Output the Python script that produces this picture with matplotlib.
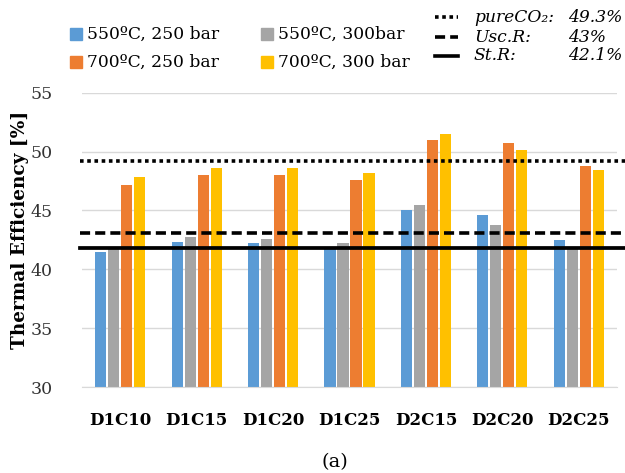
import matplotlib
matplotlib.use("Agg")
import matplotlib.pyplot as plt
import numpy as np
from matplotlib.patches import Rectangle
from matplotlib.lines import Line2D

categories = ["D1C10", "D1C15", "D1C20", "D1C25", "D2C15", "D2C20", "D2C25"]
series_names = ["550ºC, 250 bar", "550ºC, 300bar", "700ºC, 250 bar", "700ºC, 300 bar"]
s550_250 = [41.5, 42.3, 42.2, 41.8, 45.0, 44.6, 42.5]
s550_300 = [41.9, 42.7, 42.6, 42.2, 45.5, 43.8, 41.7]
s700_250 = [47.2, 48.0, 48.0, 47.6, 51.0, 50.7, 48.8]
s700_300 = [47.8, 48.6, 48.6, 48.2, 51.5, 50.1, 48.4]
series = [s550_250, s550_300, s700_250, s700_300]
colors = ["#5B9BD5", "#A5A5A5", "#ED7D31", "#FFC000"]

ref_names = ["pureCO\u2082:", "Usc.R:", "St.R:"]
ref_labels = ["49.3%", "43%", "42.1%"]
ref_values = [49.2, 43.05, 41.85]
ref_styles = [(0, (1, 1)), (0, (2.8, 1.4)), "-"]

yticks = [30, 35, 40, 45, 50, 55]

W, H = 625, 473
fig = plt.figure(figsize=(W / 100, H / 100), dpi=100)
ax = fig.add_axes([82 / W, 1 - 387 / H, (617 - 82) / W, (387 - 92.7) / H])

x = np.arange(len(categories))
slot = 0.17
bw = 0.145
for i, (vals, c) in enumerate(zip(series, colors)):
    ax.bar(x + (i - 1.5) * slot, np.array(vals) - 30, bottom=30, width=bw,
           color=c, zorder=2)

for v, ls in zip(ref_values, ref_styles):
    ax.axhline(v, xmin=-0.004, xmax=(625 - 82) / (617 - 82), color="black",
               lw=2.7 if ls == "-" else 2.6, linestyle=ls, clip_on=False, zorder=3)

ax.set_xlim(-0.5, len(categories) - 0.5)
ax.set_ylim(30, 55)
ax.set_yticks(yticks)
ax.set_yticklabels([str(t) for t in yticks], fontsize=12.5, family="DejaVu Serif", color="#333333")
ax.set_xticks(x)
ax.set_xticklabels(categories, fontsize=12, family="DejaVu Serif", fontweight="bold")
ax.tick_params(axis="both", length=0)
ax.tick_params(axis="y", pad=21)
ax.tick_params(axis="x", pad=18)
ax.grid(axis="y", color="#d9d9d9", lw=1, zorder=0)
ax.set_axisbelow(True)
for s in ["top", "right", "left"]:
    ax.spines[s].set_visible(False)
ax.spines["bottom"].set_color("#d9d9d9")

fig.text(20 / W, 1 - 230 / H, "Thermal Efficiency [%]", rotation=90, ha="center", va="center",
         fontsize=13.3, fontweight="bold", family="DejaVu Serif")
fig.text(335 / W, 1 - 462 / H, "(a)", ha="center", va="center", fontsize=14, family="DejaVu Serif")

# left legend
leg_pos = [(70, 34), (261, 34), (70, 62), (261, 62)]
for (lx, ly), name, c in zip(leg_pos, series_names, colors):
    fig.patches.append(Rectangle((lx / W, 1 - (ly + 6) / H), 12 / W, 12 / H,
                                 transform=fig.transFigure, color=c, figure=fig))
    fig.text((lx + 17) / W, 1 - ly / H, name, ha="left", va="center", fontsize=12.3,
             family="DejaVu Serif")

# right legend
rows_y = [17, 37, 56]
for yy, ls, nm, lab in zip(rows_y, ref_styles, ref_names, ref_labels):
    fig.lines.append(Line2D([435 / W, 458 / W], [1 - yy / H, 1 - yy / H], transform=fig.transFigure,
                            color="black", lw=2.6, linestyle=ls, figure=fig))
    fig.text(474 / W, 1 - yy / H, nm, ha="left", va="center", fontsize=12.3,
             family="DejaVu Serif", style="italic")
    fig.text(568 / W, 1 - yy / H, lab, ha="left", va="center", fontsize=12.3,
             family="DejaVu Serif", style="italic")

fig.savefig("out.png", dpi=100)
